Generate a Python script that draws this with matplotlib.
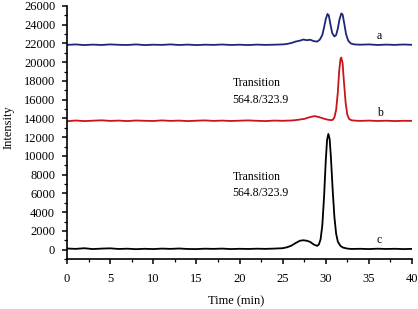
import numpy as np
import matplotlib
matplotlib.use("Agg")
import matplotlib.pyplot as plt
from matplotlib.ticker import MultipleLocator

plt.rcParams['font.family'] = ['Liberation Serif', 'DejaVu Serif']

# trace a (blue)
time_a = [0, 1, 2, 3, 4, 5, 6, 7, 8, 9, 10, 11, 12, 13, 14, 15, 16, 17, 18, 19,
          20, 21, 22, 23, 24, 25, 25.5, 26, 26.5, 27, 27.4, 27.8, 28.2, 28.6, 29,
          29.3, 29.6, 29.8, 30.0, 30.2, 30.35, 30.55, 30.75, 31.0, 31.2, 31.4,
          31.6, 31.8, 31.95, 32.15, 32.35, 32.6, 32.9, 33.3, 34, 35, 36, 37, 38,
          39, 40]
int_a = [21850, 21900, 21830, 21880, 21840, 21900, 21860, 21840, 21900, 21830,
         21870, 21850, 21900, 21840, 21880, 21830, 21870, 21850, 21890, 21840,
         21870, 21830, 21880, 21850, 21870, 21900, 21950, 22050, 22200, 22300,
         22420, 22350, 22400, 22250, 22200, 22400, 22900, 23700, 24600, 25150,
         25000, 24000, 23100, 22750, 22900, 23600, 24600, 25200, 25100, 24100,
         23000, 22300, 22000, 21900, 21870, 21900, 21840, 21880, 21850, 21890,
         21860]

# trace b (red)
time_b = [0, 1, 2, 3, 4, 5, 6, 7, 8, 9, 10, 11, 12, 13, 14, 15, 16, 17, 18, 19,
          20, 21, 22, 23, 24, 25, 26, 26.5, 27.5, 28.2, 28.7, 29.2, 29.7, 30.2,
          30.6, 30.8, 31.0, 31.2, 31.4, 31.55, 31.7, 31.8, 31.95, 32.1, 32.3,
          32.5, 32.7, 33.0, 33.5, 34, 35, 36, 37, 38, 39, 40]
int_b = [13700, 13780, 13720, 13760, 13800, 13740, 13770, 13720, 13780, 13750,
         13730, 13790, 13740, 13770, 13720, 13760, 13790, 13740, 13770, 13730,
         13760, 13790, 13750, 13720, 13770, 13750, 13780, 13820, 13950, 14150,
         14250, 14150, 14000, 13870, 13820, 13850, 14100, 14900, 16800, 19000,
         20300, 20500, 19900, 18000, 15700, 14400, 13950, 13800, 13760, 13740,
         13770, 13730, 13760, 13720, 13750, 13740]

# trace c (black)
time_c = [0, 1, 2, 3, 4, 5, 6, 7, 8, 9, 10, 11, 12, 13, 14, 15, 16, 17, 18, 19,
          20, 21, 22, 23, 24, 25, 25.5, 26, 26.5, 27, 27.4, 27.8, 28.2, 28.6, 29.0,
          29.2, 29.4, 29.6, 29.8, 30.0, 30.15, 30.3, 30.45, 30.6, 30.8, 31.0, 31.2,
          31.4, 31.7, 32.0, 32.5, 33, 34, 35, 36, 37, 38, 39, 40]
int_c = [120, 80, 150, 60, 110, 140, 70, 100, 50, 90, 60, 110, 80, 120, 70, 60,
         100, 80, 110, 60, 90, 70, 100, 80, 110, 150, 250, 420, 700, 950, 1000,
         950, 820, 550, 400, 550, 1100, 2600, 5600, 9500, 11700, 12350, 11800,
         9800, 6400, 3500, 1700, 850, 400, 220, 110, 70, 90, 60, 100, 70, 90, 60,
         80]

trace_labels = ['a', 'b', 'c']
label_time = 35.9
label_y = [22750, 14550, 980]
transition_text = 'Transition\n564.8/323.9'

fig = plt.figure(figsize=(4.18, 3.09), dpi=100)
ax = fig.add_axes([0.1603, 0.1618, 0.8254, 0.8188])

ax.plot(time_a, int_a, color='#1c2777', lw=1.3)
ax.plot(time_b, int_b, color='#c8141a', lw=1.3)
ax.plot(time_c, int_c, color='black', lw=1.3)

for lab, y in zip(trace_labels, label_y):
    ax.text(label_time, y, lab, fontsize=8.5, ha='left', va='center')

ax.text(19.2, 16900, transition_text, fontsize=8.5, ha='left', va='center', linespacing=1.5)
ax.text(19.2, 6900, transition_text, fontsize=8.5, ha='left', va='center', linespacing=1.5)

ax.set_xlim(0, 40)
ax.set_ylim(-1000, 26000)
ax.xaxis.set_major_locator(MultipleLocator(5))
ax.xaxis.set_minor_locator(MultipleLocator(2.5))
ax.set_yticks(range(0, 26001, 2000))
ax.yaxis.set_minor_locator(MultipleLocator(1000))

for s in ['top', 'right']:
    ax.spines[s].set_visible(False)
for s in ['left', 'bottom']:
    ax.spines[s].set_linewidth(1.2)

ax.tick_params(axis='both', which='major', direction='out', length=3.5, width=1.1,
               labelsize=9)
ax.tick_params(axis='x', which='major', pad=6.5)
ax.tick_params(axis='y', which='major', pad=5)
ax.tick_params(axis='both', which='minor', direction='out', length=2.2, width=0.9)

ax.set_xlabel('Time (min)', fontsize=9)
ax.xaxis.set_label_coords(0.49, -0.145)
ax.set_ylabel('Intensity', fontsize=9)
ax.yaxis.set_label_coords(-0.153, 0.52)

fig.savefig('out.png', dpi=100)
